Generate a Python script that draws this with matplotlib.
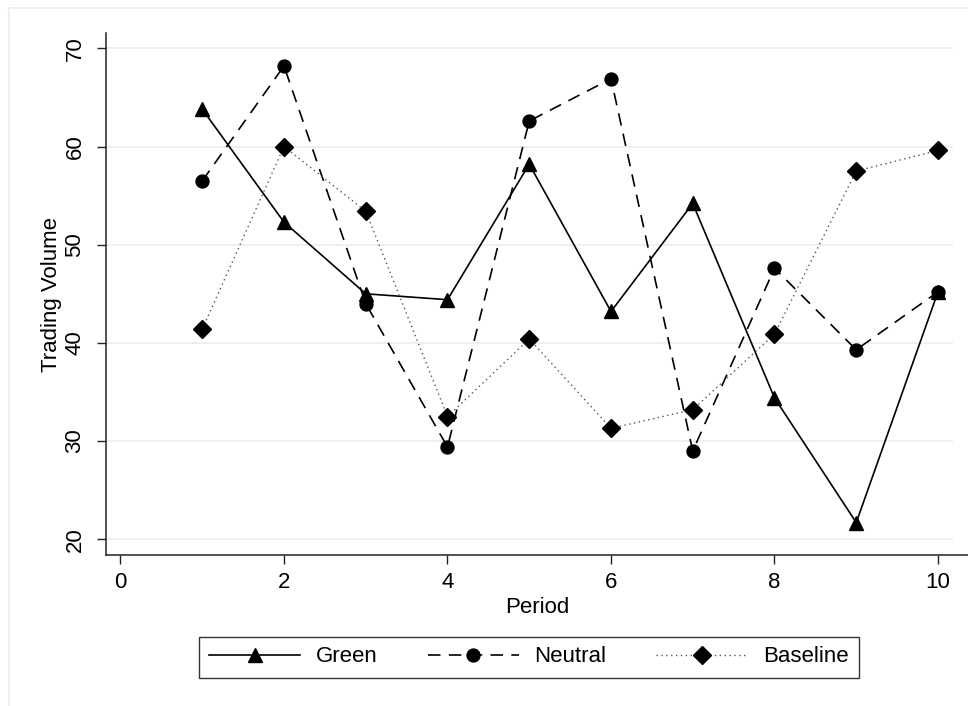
import matplotlib.pyplot as plt
from matplotlib.lines import Line2D

# data
periods = [1, 2, 3, 4, 5, 6, 7, 8, 9, 10]
green = [63.8, 52.3, 45.0, 44.4, 58.2, 43.2, 54.2, 34.4, 21.7, 45.2]
neutral = [56.5, 68.2, 44.0, 29.4, 62.6, 66.9, 29.0, 47.6, 39.3, 45.2]
baseline = [41.4, 60.0, 53.4, 32.5, 40.4, 31.3, 33.2, 40.9, 57.5, 59.6]

x_ticks = [0, 2, 4, 6, 8, 10]
y_ticks = [20, 30, 40, 50, 60, 70]

plt.rcParams['font.family'] = ['Liberation Sans', 'DejaVu Sans']

W, H = 968, 706
fig = plt.figure(figsize=(W / 100, H / 100), dpi=100)

# axes box in pixel terms of the reference
left, right, top, bottom = 105.7, 968, 33.3, 555
ax = fig.add_axes([left / W, 1 - bottom / H, (right - left) / W, (bottom - top) / H])

# light outer frame
frame_col = '#e8eef1'
fig.add_artist(Line2D([9 / W, 9 / W], [0, 1 - 8 / H], transform=fig.transFigure, color=frame_col, lw=1.2))
fig.add_artist(Line2D([9 / W, 1], [1 - 8 / H, 1 - 8 / H], transform=fig.transFigure, color=frame_col, lw=1.2))

ax.set_xlim(-0.181, 10.367)
ax.set_ylim(18.4, 71.53)

# gridlines
ax.hlines(y_ticks, -0.181, 10.18, color='#e8eff2', lw=1.3, zorder=0)

ax.plot(periods, green, color='black', lw=1.2, marker='^', markersize=10.5, label='Green')
ax.plot(periods, neutral, color='black', lw=1.2, dashes=(7.5, 5), marker='o', markersize=9.3, label='Neutral')
ax.plot(periods, baseline, color='#555555', lw=1.0, dashes=(1, 2.5), marker='D', markersize=8.8,
        markerfacecolor='black', markeredgecolor='black', label='Baseline')

for s in ['top', 'right']:
    ax.spines[s].set_visible(False)
for s in ['left', 'bottom']:
    ax.spines[s].set_linewidth(1.1)
    ax.spines[s].set_color('#222222')

ax.set_xticks(x_ticks)
ax.set_yticks(y_ticks)
ax.tick_params(axis='both', length=6.5, width=1.0, color='#222222', labelsize=16)
ax.tick_params(axis='x', pad=6)
ax.tick_params(axis='y', pad=8, labelrotation=90)
for lab in ax.get_yticklabels():
    lab.set_va('center')

ax.set_xlabel('Period', fontsize=16)
ax.set_ylabel('Trading Volume', fontsize=16)
ax.xaxis.set_label_coords(0.5, -(597 - bottom) / (bottom - top))
ax.yaxis.set_label_coords((62 - left) / (right - left), 0.5)

leg = fig.legend(loc='center', bbox_to_anchor=(529 / W, 1 - 657 / H), ncol=3, fontsize=16,
                 frameon=True, fancybox=False, edgecolor='black', handlelength=4.1,
                 handletextpad=0.7, columnspacing=2.25, borderpad=0.45)
leg.get_frame().set_linewidth(1.0)

fig.savefig('out.png', dpi=100)
